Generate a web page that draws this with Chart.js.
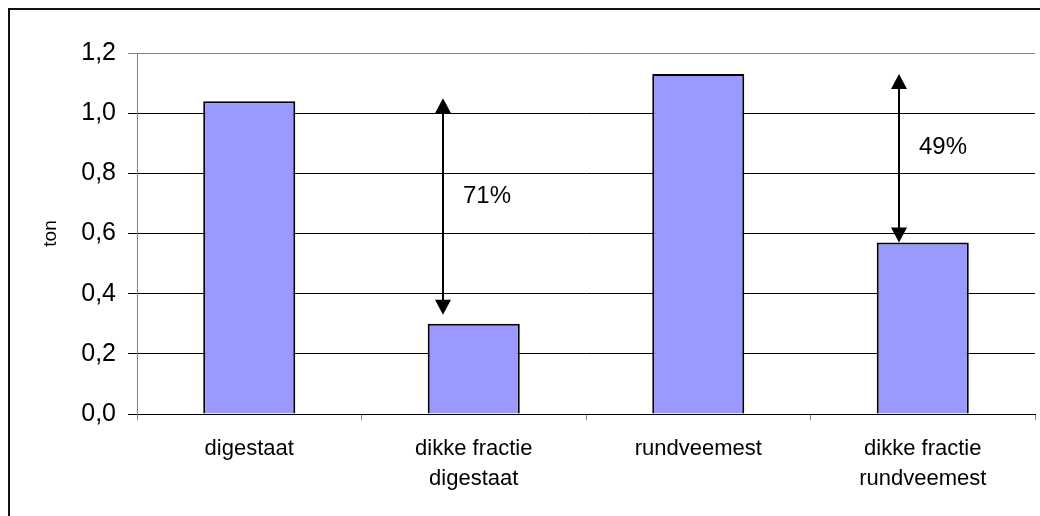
<!DOCTYPE html>
<html>
<head>
<meta charset="utf-8">
<script src="https://cdn.jsdelivr.net/npm/chart.js@4/dist/chart.umd.min.js"></script>
<style>
  html, body { margin: 0; padding: 0; background: #fff; overflow: hidden; }
  #wrap { position: relative; width: 1040px; height: 516px; }
  #frame { position: absolute; left: 8px; top: 8px; width: 1100px; height: 600px; border-top: 2px solid #111; border-left: 2px solid #111; pointer-events: none; }
</style>
</head>
<body>
<div id="wrap">
  <canvas id="chart" width="1040" height="516"></canvas>
  <div id="frame"></div>
</div>
<script>
(function() {
  'use strict';

  var categories = [['digestaat'], ['dikke fractie', 'digestaat'], ['rundveemest'], ['dikke fractie', 'rundveemest']];
  var values = [1.04, 0.30, 1.13, 0.57];

  // annotation arrows (category position, upper and lower value)
  var arrowPos = [0.862, 2.895];
  var arrowTop = [1.05, 1.13];
  var arrowBottom = [0.33, 0.57];
  var pctLabels = ['71%', '49%'];
  var pctValues = [0.725, 0.885];

  var font = "'Liberation Sans', Arial, sans-serif";

  function formatTick(value) {
    return Number(value).toFixed(1).replace('.', ',');
  }

  var arrowPlugin = {
    id: 'arrows',
    afterDatasetsDraw: function(chart) {
      var ctx = chart.ctx;
      var x = chart.scales.x;
      var y = chart.scales.y;
      var head = 15, half = 8;
      ctx.save();
      ctx.fillStyle = '#000';
      ctx.strokeStyle = '#000';
      ctx.lineWidth = 2;
      arrowPos.forEach(function(pos, i) {
        var px = Math.round(x.getPixelForValue(pos));
        var top = y.getPixelForValue(arrowTop[i]);
        var bottom = y.getPixelForValue(arrowBottom[i]);
        ctx.beginPath();
        ctx.moveTo(px, top + head - 1);
        ctx.lineTo(px, bottom - head + 1);
        ctx.stroke();
        ctx.beginPath();
        ctx.moveTo(px, top);
        ctx.lineTo(px - half, top + head);
        ctx.lineTo(px + half, top + head);
        ctx.closePath();
        ctx.fill();
        ctx.beginPath();
        ctx.moveTo(px, bottom);
        ctx.lineTo(px - half, bottom - head);
        ctx.lineTo(px + half, bottom - head);
        ctx.closePath();
        ctx.fill();
        ctx.font = '24px ' + font;
        ctx.textAlign = 'left';
        ctx.textBaseline = 'middle';
        ctx.fillText(pctLabels[i], px + 20, y.getPixelForValue(pctValues[i]));
      });
      ctx.restore();
    }
  };

  new Chart(document.getElementById('chart'), {
    type: 'bar',
    data: {
      labels: categories,
      datasets: [{
        data: values,
        backgroundColor: '#9999ff',
        borderColor: '#000',
        borderWidth: 2,
        categoryPercentage: 1,
        barPercentage: 0.41
      }]
    },
    options: {
      responsive: false,
      animation: false,
      events: [],
      layout: { padding: { top: 53, right: 5, left: 0, bottom: 0 } },
      plugins: { legend: { display: false }, tooltip: { enabled: false } },
      scales: {
        x: {
          grid: { display: true, drawOnChartArea: false, drawTicks: true, tickLength: 6, color: '#808080', offset: true },
          border: { color: '#000', width: 1 },
          ticks: { color: '#000', padding: 14, font: { family: font, size: 22, lineHeight: 1.36 }, maxRotation: 0 },
          afterFit: function(scale) { scale.height = 102; }
        },
        y: {
          min: 0,
          max: 1.2,
          ticks: { stepSize: 0.2, color: '#000', padding: 12, font: { family: font, size: 25 }, callback: formatTick },
          grid: {
            drawTicks: true,
            tickLength: 9,
            color: function(c) { return c.tick && Math.abs(c.tick.value - 1.2) < 1e-6 ? '#808080' : '#000'; }
          },
          border: { color: '#808080', width: 1 },
          title: { display: true, text: 'ton', color: '#000', font: { family: font, size: 19 }, padding: { top: 39 } },
          afterFit: function(scale) { scale.width = 137; }
        }
      }
    },
    plugins: [arrowPlugin]
  });
})();
</script>
</body>
</html>
